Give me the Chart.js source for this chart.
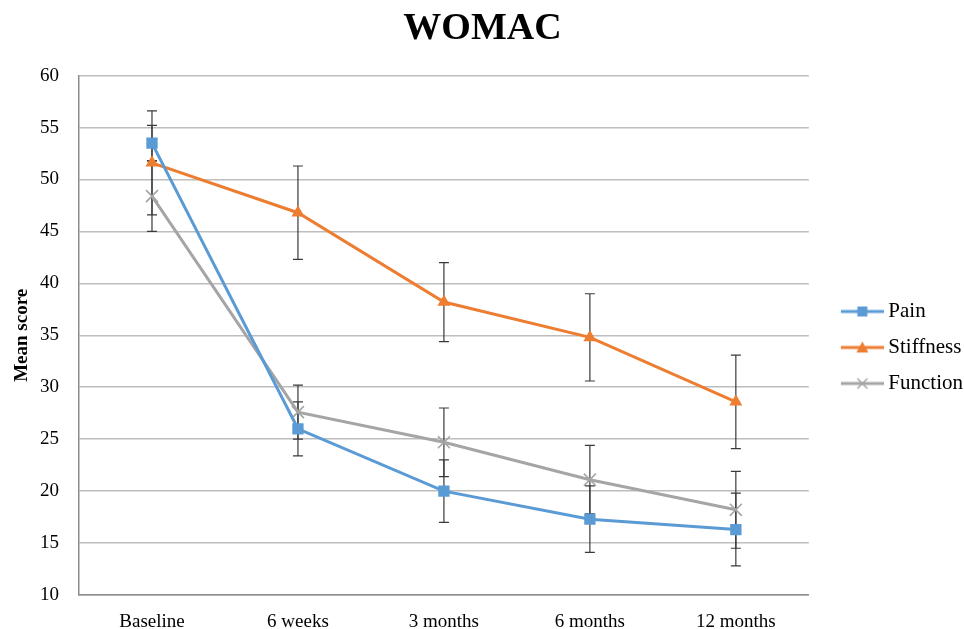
<!DOCTYPE html>
<html>
<head>
<meta charset="utf-8">
<script src="https://cdn.jsdelivr.net/npm/chart.js@4/dist/chart.umd.min.js"></script>
<style>
  html, body { margin: 0; padding: 0; background: #fff; }
  #wrap { width: 964px; height: 629px; position: relative; }
</style>
</head>
<body>
<div id="wrap"><canvas id="womac-chart"></canvas></div>
<script>
var categories = ['Baseline', '6 weeks', '3 months', '6 months', '12 months'];
var pain = [53.5, 26.0, 20.0, 17.3, 16.3];
var painErr = [1.7, 2.6, 3.0, 3.2, 3.5];
var stiffness = [51.6, 46.8, 38.2, 34.8, 28.6];
var stiffnessErr = [5.0, 4.5, 3.8, 4.2, 4.5];
var functionScore = [48.4, 27.6, 24.7, 21.1, 18.2];
var functionErr = [3.4, 2.6, 3.3, 3.3, 3.7];
var yMin = 10;
var yMax = 60;
var yStep = 5;

var serif = "'Liberation Serif', 'Times New Roman', serif";
var errors = [painErr, stiffnessErr, functionErr];

// line+marker picture for the legend, drawn at the right end of a wider transparent canvas
function legendSample(color, marker){
  var c = document.createElement('canvas');
  c.width = 66; c.height = 14;
  var ctx = c.getContext('2d');
  var x0 = 23, mid = x0 + 21.5;
  ctx.strokeStyle = color;
  ctx.fillStyle = color;
  ctx.lineWidth = 3;
  ctx.beginPath();
  ctx.moveTo(x0, 7); ctx.lineTo(66, 7);
  ctx.stroke();
  if (marker === 'rect'){
    ctx.fillRect(mid - 5, 2, 10, 10);
  } else if (marker === 'triangle'){
    ctx.beginPath();
    ctx.moveTo(mid, 1); ctx.lineTo(mid + 6, 12); ctx.lineTo(mid - 6, 12);
    ctx.closePath(); ctx.fill();
  } else {
    ctx.lineWidth = 1.5;
    ctx.beginPath();
    ctx.moveTo(mid - 5, 2); ctx.lineTo(mid + 5, 12);
    ctx.moveTo(mid + 5, 2); ctx.lineTo(mid - 5, 12);
    ctx.stroke();
  }
  return c;
}

var errorBars = {
  id: 'errorBars',
  beforeDatasetsDraw: function(chart){
    var ctx = chart.ctx;
    var y = chart.scales.y;
    ctx.save();
    ctx.strokeStyle = '#3a3a3a';
    ctx.lineWidth = 1.2;
    chart.data.datasets.forEach(function(ds, i){
      var meta = chart.getDatasetMeta(i);
      meta.data.forEach(function(pt, j){
        var v = ds.data[j], e = errors[i][j];
        var top = y.getPixelForValue(v + e);
        var bot = y.getPixelForValue(v - e);
        ctx.beginPath();
        ctx.moveTo(pt.x, top); ctx.lineTo(pt.x, bot);
        ctx.moveTo(pt.x - 5, top); ctx.lineTo(pt.x + 5, top);
        ctx.moveTo(pt.x - 5, bot); ctx.lineTo(pt.x + 5, bot);
        ctx.stroke();
      });
    });
    ctx.restore();
  }
};

var samples = [
  legendSample('#5B9BD5', 'rect'),
  legendSample('#ED7D31', 'triangle'),
  legendSample('#A5A5A5', 'cross')
];

new Chart(document.getElementById('womac-chart'), {
  type: 'line',
  data: {
    labels: categories,
    datasets: [{
      label: 'Pain',
      data: pain,
      borderColor: '#5B9BD5',
      backgroundColor: '#5B9BD5',
      borderWidth: 3,
      pointStyle: 'rect',
      pointRadius: 8,
      pointBorderWidth: 0
    }, {
      label: 'Stiffness',
      data: stiffness,
      borderColor: '#ED7D31',
      backgroundColor: '#ED7D31',
      borderWidth: 3,
      pointStyle: 'triangle',
      pointRadius: 7.5,
      pointBorderWidth: 0
    }, {
      label: 'Function',
      data: functionScore,
      borderColor: '#A5A5A5',
      backgroundColor: '#A5A5A5',
      borderWidth: 3,
      pointStyle: 'crossRot',
      pointRadius: 8.5,
      pointBorderWidth: 1.6
    }]
  },
  options: {
    responsive: true,
    maintainAspectRatio: false,
    animation: false,
    layout: { padding: { left: -8, right: -9, top: 6, bottom: 0 } },
    plugins: {
      title: {
        display: true,
        text: 'WOMAC',
        color: '#000',
        font: { family: serif, size: 38, weight: 'bold' },
        padding: { top: 0, bottom: 24 }
      },
      legend: {
        position: 'right',
        align: 'start',
        title: { display: true, text: ' ', font: { size: 10 }, padding: { top: 268, bottom: 0 } },
        labels: {
          color: '#000',
          font: { family: serif, size: 21 },
          usePointStyle: true,
          pointStyleWidth: 54,
          padding: 15,
          generateLabels: function(chart){
            return chart.data.datasets.map(function(ds, i){
              return {
                text: ds.label,
                pointStyle: samples[i],
                fillStyle: ds.borderColor,
                strokeStyle: ds.borderColor,
                lineWidth: 0,
                hidden: false,
                datasetIndex: i,
                fontColor: '#000'
              };
            });
          }
        }
      },
      tooltip: { enabled: false }
    },
    scales: {
      x: {
        offset: true,
        grid: { display: false, drawTicks: false },
        border: { display: true, color: '#8c8c8c', width: 1.5 },
        ticks: { color: '#000', font: { family: serif, size: 19 }, padding: 16, maxRotation: 0 },
        afterFit: function(scale){ scale.height = 34; }
      },
      y: {
        min: yMin,
        max: yMax,
        ticks: { stepSize: yStep, color: '#000', font: { family: serif, size: 19 }, padding: 20 },
        grid: { color: '#bdbdbd', lineWidth: 1.5, drawTicks: false },
        border: { display: true, color: '#8c8c8c', width: 1.5 },
        title: {
          display: true,
          text: 'Mean score',
          color: '#000',
          font: { family: serif, size: 19, weight: 'bold' },
          padding: { top: 19, bottom: 4 }
        },
        afterFit: function(scale){ scale.width = 87; }
      }
    }
  },
  plugins: [errorBars]
});
</script>
</body>
</html>
